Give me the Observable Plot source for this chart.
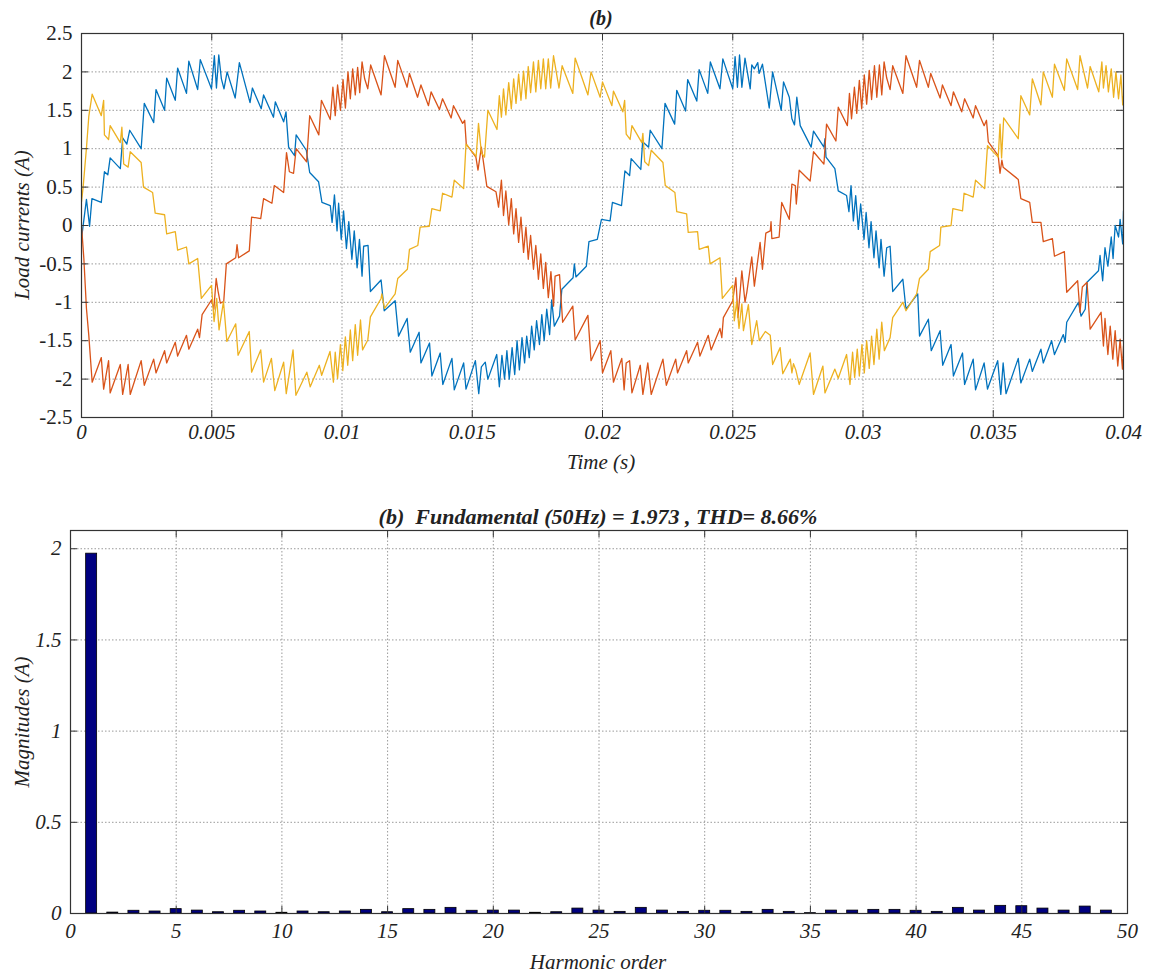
<!DOCTYPE html>
<html><head><meta charset="utf-8">
<script src="https://cdn.jsdelivr.net/npm/d3@7"></script>
<script src="https://cdn.jsdelivr.net/npm/@observablehq/plot@0.6"></script>
<style>
body{margin:0;background:#fff;}
#wrap{position:relative;width:1151px;height:977px;font-family:'Liberation Serif','DejaVu Serif','Times New Roman',Times,serif;color:#222;}
#wrap svg{position:absolute;left:0;}
#wrap svg text{font-family:'Liberation Serif','DejaVu Serif','Times New Roman',Times,serif;}
.t{position:absolute;white-space:pre;font-style:italic;transform:translate(-50%,-50%);}
.rot{transform:translate(-50%,-50%) rotate(-90deg);}
</style></head><body><div id="wrap"></div>
<script>
// time in ms, current in A
const phaseA = [[0,-0.17],[0.19,0.34],[0.31,-0.01],[0.4,0.35],[0.76,0.3],[0.88,0.70],[1.01,0.66],[1.1,0.88],[1.49,0.74],[1.58,1.14],[1.74,1.06],[1.85,1.24],[2.29,1.0],[2.41,1.59],[2.77,1.34],[2.86,1.77],[3.19,1.5],[3.27,1.92],[3.6,1.63],[3.69,2.05],[4.03,1.72],[4.12,2.14],[4.46,1.77],[4.56,2.16],[4.99,1.78],[5.1,2.21],[5.18,1.79],[5.27,2.22],[5.37,1.91],[5.47,1.78],[5.59,2.0],[5.9,1.66],[6.06,2.12],[6.47,1.6],[6.56,1.79],[6.9,1.52],[6.99,1.7],[7.37,1.41],[7.44,1.61],[7.76,1.35],[7.85,1.48],[7.95,1.02],[8.18,0.91],[8.24,1.18],[8.63,0.98],[8.76,0.69],[9.1,0.57],[9.23,0.30],[9.55,0.26],[9.62,0.04],[9.71,0.4],[9.81,-0.07],[9.87,0.29],[9.97,-0.18],[10.06,0.19],[10.17,-0.3],[10.26,0.05],[10.38,-0.44],[10.47,-0.07],[10.58,-0.55],[10.67,-0.18],[10.77,-0.66],[10.83,-0.27],[11.0,-0.26],[11.09,-0.86],[11.5,-0.71],[11.62,-1.11],[12.04,-0.98],[12.17,-1.44],[12.5,-1.21],[12.62,-1.65],[12.96,-1.39],[13.03,-1.79],[13.36,-1.53],[13.45,-1.96],[13.77,-1.66],[13.87,-2.07],[14.22,-1.73],[14.31,-2.14],[14.67,-1.79],[14.76,-2.13],[15.12,-1.76],[15.25,-2.19],[15.35,-1.84],[15.5,-1.78],[15.6,-2.0],[15.94,-1.68],[16.04,-2.1],[16.14,-1.69],[16.24,-2.0],[16.33,-1.63],[16.42,-2.0],[16.53,-1.59],[16.63,-1.94],[16.72,-1.5],[16.81,-1.88],[16.91,-1.46],[17.01,-1.79],[17.09,-1.44],[17.19,-1.72],[17.28,-1.31],[17.38,-1.62],[17.47,-1.24],[17.58,-1.55],[17.67,-1.16],[17.76,-1.5],[17.86,-1.09],[17.97,-1.42],[18.05,-0.97],[18.15,-1.31],[18.35,-1.18],[18.44,-0.83],[18.87,-0.68],[18.92,-0.5],[18.98,-0.67],[19.38,-0.53],[19.48,-0.21],[19.8,-0.18],[19.96,0.08],[20.29,0.06],[20.38,0.3],[20.73,0.26],[20.86,0.71],[21.04,0.65],[21.1,0.87],[21.47,0.73],[21.54,1.09],[21.77,1.02],[21.83,1.24],[22.28,1.0],[22.4,1.59],[22.77,1.32],[22.85,1.76],[23.19,1.49],[23.27,1.9],[23.62,1.62],[23.71,2.03],[24.04,1.72],[24.14,2.13],[24.51,1.78],[24.62,2.17],[25.0,1.78],[25.09,2.2],[25.18,1.8],[25.26,2.22],[25.35,1.8],[25.47,2.18],[25.67,1.78],[25.73,2.09],[25.83,2.04],[25.96,2.12],[26.01,1.98],[26.14,2.1],[26.4,1.53],[26.53,2.0],[26.86,1.5],[26.95,1.87],[27.17,1.67],[27.27,1.39],[27.37,1.31],[27.46,1.67],[27.59,1.3],[28.01,1.02],[28.1,1.23],[28.5,1.02],[28.54,1.13],[28.58,0.89],[28.92,0.74],[29.05,0.45],[29.37,0.39],[29.46,0.18],[29.54,0.52],[29.63,0.06],[29.72,0.39],[29.82,-0.05],[29.91,0.28],[30.04,-0.18],[30.12,0.17],[30.23,-0.29],[30.31,0.05],[30.42,-0.42],[30.5,-0.07],[30.62,-0.55],[30.69,-0.18],[30.81,-0.66],[30.91,-0.29],[31.04,-0.27],[31.14,-0.86],[31.53,-0.70],[31.65,-1.09],[32.1,-0.89],[32.17,-1.44],[32.51,-1.22],[32.62,-1.63],[32.96,-1.37],[33.06,-1.82],[33.38,-1.55],[33.47,-1.96],[33.82,-1.66],[33.9,-2.07],[34.23,-1.74],[34.32,-2.14],[34.65,-1.79],[34.78,-2.13],[35.17,-1.76],[35.29,-2.2],[35.38,-1.79],[35.49,-2.19],[35.96,-1.73],[36.06,-2.05],[36.4,-1.74],[36.5,-1.9],[36.83,-1.61],[36.92,-1.79],[37.24,-1.5],[37.35,-1.68],[37.69,-1.42],[37.76,-1.52],[37.82,-1.26],[38.27,-1.0],[38.37,-1.18],[38.53,-1.09],[38.6,-0.74],[39.04,-0.59],[39.1,-0.39],[39.2,-0.72],[39.29,-0.29],[39.4,-0.53],[39.53,-0.15],[39.6,-0.43],[39.68,0],[39.81,-0.15],[39.87,0.08],[39.97,-0.24],[40,0.19]];
const phaseB = [[0,0],[0.09,-0.43],[0.19,-1.08],[0.28,-1.43],[0.41,-2.04],[0.76,-1.72],[0.85,-2.13],[1.04,-1.76],[1.1,-2.18],[1.49,-1.81],[1.58,-2.2],[1.79,-1.81],[1.87,-2.2],[2.29,-1.76],[2.41,-2.08],[2.77,-1.74],[2.86,-1.92],[3.19,-1.63],[3.27,-1.79],[3.6,-1.52],[3.69,-1.7],[4.03,-1.43],[4.12,-1.61],[4.46,-1.35],[4.53,-1.46],[4.63,-1.16],[4.99,-0.97],[5.08,-1.09],[5.17,-0.69],[5.24,-0.85],[5.33,-1.01],[5.46,-0.99],[5.56,-0.5],[5.92,-0.42],[5.97,-0.25],[6.03,-0.42],[6.44,-0.33],[6.53,0.11],[6.88,0.09],[6.99,0.35],[7.31,0.29],[7.4,0.52],[7.76,0.43],[7.87,0.95],[7.98,0.7],[8.14,0.68],[8.24,1.0],[8.64,0.83],[8.76,1.43],[9.11,1.18],[9.21,1.63],[9.55,1.38],[9.65,1.8],[9.74,1.43],[9.83,1.83],[9.94,1.5],[10.04,1.9],[10.13,1.53],[10.23,2.0],[10.32,1.65],[10.41,2.04],[10.51,1.7],[10.6,2.06],[10.68,1.73],[10.77,2.13],[10.87,1.91],[10.99,1.78],[11.1,2.09],[11.5,1.7],[11.63,2.21],[12.04,1.8],[12.14,2.15],[12.5,1.8],[12.59,1.98],[12.9,1.67],[13.03,1.83],[13.32,1.56],[13.42,1.74],[13.74,1.51],[13.86,1.65],[14.19,1.4],[14.28,1.56],[14.63,1.33],[14.71,1.37],[14.77,1.06],[15.14,0.89],[15.22,0.72],[15.35,1.02],[15.56,0.51],[15.91,0.44],[16.01,0.24],[16.12,0.59],[16.2,0.13],[16.29,0.45],[16.4,0.01],[16.5,0.35],[16.59,-0.11],[16.68,0.22],[16.78,-0.22],[16.87,0.11],[16.97,-0.35],[17.06,-0.02],[17.15,-0.44],[17.24,-0.13],[17.35,-0.57],[17.44,-0.26],[17.54,-0.7],[17.63,-0.37],[17.73,-0.82],[17.82,-0.48],[17.92,-0.94],[18.02,-0.6],[18.12,-1.05],[18.18,-0.66],[18.35,-0.64],[18.47,-1.26],[18.86,-1.05],[18.95,-1.49],[19.44,-1.17],[19.56,-1.76],[19.91,-1.5],[20.0,-1.92],[20.32,-1.63],[20.42,-2.04],[20.74,-1.73],[20.83,-2.14],[20.91,-1.79],[21.04,-1.76],[21.13,-2.18],[21.45,-1.82],[21.55,-2.2],[21.74,-1.79],[21.87,-2.2],[22.32,-1.74],[22.45,-2.08],[22.81,-1.74],[22.88,-1.92],[23.23,-1.63],[23.29,-1.79],[23.65,-1.52],[23.74,-1.7],[24.06,-1.43],[24.17,-1.62],[24.51,-1.34],[24.58,-1.46],[24.64,-1.2],[25.0,-0.98],[25.12,-0.68],[25.2,-1.2],[25.35,-0.59],[25.47,-1.0],[25.54,-0.87],[25.73,-0.41],[25.83,-0.79],[26.05,-0.22],[26.14,-0.57],[26.27,-0.1],[26.44,-0.07],[26.47,0.05],[26.5,-0.17],[26.78,-0.15],[26.88,0.3],[27.17,0.08],[27.27,0.54],[27.4,0.52],[27.44,0.28],[27.55,0.72],[27.97,0.58],[28.1,0.96],[28.5,0.8],[28.6,1.32],[28.96,1.1],[29.05,1.54],[29.4,1.3],[29.48,1.72],[29.56,1.39],[29.67,1.8],[29.76,1.46],[29.86,1.89],[29.95,1.52],[30.05,1.96],[30.14,1.58],[30.24,2.02],[30.33,1.64],[30.44,2.08],[30.53,1.67],[30.63,2.09],[30.72,1.7],[30.81,2.13],[30.91,1.92],[31.04,1.77],[31.14,2.08],[31.53,1.72],[31.65,2.21],[32.06,1.8],[32.17,2.15],[32.51,1.8],[32.6,1.98],[32.96,1.66],[33.05,1.83],[33.38,1.56],[33.47,1.74],[33.79,1.48],[33.9,1.65],[34.23,1.4],[34.32,1.56],[34.65,1.3],[34.74,1.37],[34.81,1.09],[35.19,0.91],[35.26,0.68],[35.33,0.85],[35.38,0.76],[35.96,0.6],[36.06,0.35],[36.4,0.3],[36.5,0.04],[36.83,0.04],[36.92,-0.21],[37.27,-0.17],[37.35,-0.4],[37.73,-0.34],[37.82,-0.87],[38.24,-0.72],[38.33,-1.13],[38.42,-0.8],[38.6,-0.74],[38.72,-1.35],[39.14,-1.13],[39.23,-1.57],[39.29,-1.21],[39.4,-1.68],[39.49,-1.31],[39.59,-1.74],[39.68,-1.37],[39.78,-1.83],[39.87,-1.48],[39.96,-1.87],[40,-1.57]];
const phaseC = [[0,0.31],[0.06,0.49],[0.19,1.01],[0.28,1.42],[0.41,1.71],[0.76,1.43],[0.85,1.63],[0.88,1.18],[1.04,1.12],[1.1,1.3],[1.49,1.08],[1.55,1.28],[1.62,0.8],[1.79,0.76],[1.87,0.96],[2.29,0.82],[2.38,0.5],[2.73,0.43],[2.83,0.16],[3.19,0.14],[3.27,-0.11],[3.6,-0.08],[3.69,-0.32],[4.03,-0.28],[4.12,-0.5],[4.46,-0.43],[4.6,-0.95],[4.99,-0.78],[5.09,-1.25],[5.19,-0.95],[5.28,-1.36],[5.45,-0.99],[5.58,-1.51],[5.92,-1.28],[6.01,-1.69],[6.44,-1.38],[6.53,-1.91],[6.88,-1.62],[6.99,-2.04],[7.29,-1.73],[7.42,-2.15],[7.76,-1.78],[7.86,-2.19],[8.12,-1.62],[8.23,-2.21],[8.65,-1.91],[8.78,-2.1],[9.13,-1.82],[9.22,-1.95],[9.54,-1.64],[9.67,-2.04],[9.74,-1.65],[9.83,-1.99],[9.94,-1.55],[10.03,-1.89],[10.13,-1.45],[10.22,-1.82],[10.32,-1.36],[10.41,-1.76],[10.51,-1.29],[10.6,-1.69],[10.71,-1.23],[10.79,-1.62],[10.99,-1.49],[11.09,-1.19],[11.5,-0.95],[11.53,-0.89],[11.63,-1.08],[12.04,-0.89],[12.14,-0.69],[12.51,-0.57],[12.59,-0.31],[12.91,-0.26],[13.0,-0.02],[13.35,-0.01],[13.45,0.22],[13.77,0.19],[13.86,0.42],[14.22,0.37],[14.31,0.59],[14.67,0.48],[14.76,1.06],[15.15,0.9],[15.24,1.33],[15.35,0.95],[15.47,0.89],[15.6,1.5],[15.95,1.25],[16.04,1.69],[16.12,1.41],[16.2,1.78],[16.29,1.44],[16.4,1.86],[16.5,1.52],[16.59,1.91],[16.68,1.59],[16.78,1.97],[16.87,1.63],[16.97,2.01],[17.06,1.65],[17.15,2.07],[17.24,1.73],[17.35,2.13],[17.44,1.74],[17.54,2.15],[17.63,1.78],[17.73,2.17],[17.82,1.78],[17.92,2.17],[18.01,1.79],[18.12,2.21],[18.33,1.79],[18.45,2.08],[18.86,1.72],[18.95,2.18],[19.44,1.7],[19.56,2.0],[19.91,1.67],[20.0,1.87],[20.36,1.56],[20.42,1.75],[20.78,1.48],[20.85,1.63],[20.91,1.19],[21.06,1.12],[21.13,1.3],[21.51,1.08],[21.55,1.2],[21.62,0.83],[21.77,0.78],[21.87,0.98],[22.32,0.82],[22.41,0.52],[22.78,0.43],[22.85,0.18],[23.23,0.15],[23.29,-0.09],[23.65,-0.08],[23.71,-0.31],[24.06,-0.27],[24.13,-0.5],[24.51,-0.42],[24.6,-0.95],[25.0,-0.78],[25.06,-1.24],[25.15,-0.99],[25.24,-1.34],[25.35,-1.02],[25.41,-1.37],[25.6,-1.03],[25.73,-1.55],[25.92,-1.24],[26.02,-1.5],[26.25,-1.38],[26.44,-1.43],[26.53,-1.81],[26.82,-1.59],[26.92,-1.93],[27.21,-1.74],[27.27,-1.92],[27.33,-1.8],[27.42,-1.88],[27.55,-2.07],[27.97,-1.66],[28.1,-2.2],[28.46,-1.83],[28.54,-2.18],[28.92,-1.87],[29.05,-1.99],[29.37,-1.68],[29.5,-2.07],[29.6,-1.65],[29.68,-1.98],[29.78,-1.61],[29.86,-1.96],[29.96,-1.55],[30.05,-1.92],[30.14,-1.5],[30.24,-1.86],[30.33,-1.44],[30.42,-1.81],[30.53,-1.35],[30.62,-1.74],[30.72,-1.26],[30.82,-1.63],[31.04,-1.46],[31.14,-1.2],[31.53,-1.0],[31.65,-1.11],[32.06,-0.89],[32.17,-0.69],[32.51,-0.57],[32.58,-0.34],[32.94,-0.26],[32.99,-0.02],[33.38,0],[33.45,0.22],[33.82,0.19],[33.88,0.42],[34.23,0.37],[34.32,0.59],[34.67,0.48],[34.78,1.04],[35.19,0.89],[35.26,1.32],[35.32,0.88],[35.4,1.4],[35.96,1.13],[36.06,1.69],[36.4,1.44],[36.5,1.91],[36.83,1.57],[36.92,2.0],[37.27,1.67],[37.35,2.1],[37.73,1.76],[37.82,2.17],[38.24,1.77],[38.33,2.21],[38.62,1.79],[38.72,2.07],[38.97,1.82],[39.05,1.74],[39.17,2.13],[39.23,1.79],[39.33,2.08],[39.42,1.74],[39.53,2.04],[39.62,1.67],[39.71,2.0],[39.81,1.65],[39.9,1.96],[39.97,1.57],[40,1.68]];
const timeTicks = [0, 0.005, 0.01, 0.015, 0.02, 0.025, 0.03, 0.035, 0.04];
const currentTicks = [-2.5, -2, -1.5, -1, -0.5, 0, 0.5, 1, 1.5, 2, 2.5];
const harmonicOrder = [1,2,3,4,5,6,7,8,9,10,11,12,13,14,15,16,17,18,19,20,21,22,23,24,25,26,27,28,29,30,31,32,33,34,35,36,37,38,39,40,41,42,43,44,45,46,47,48,49];
const harmonicMag = [1.973,0.005,0.015,0.011,0.024,0.016,0.007,0.015,0.011,0.004,0.011,0.007,0.011,0.02,0.007,0.024,0.02,0.031,0.015,0.016,0.016,0.004,0.007,0.027,0.016,0.009,0.031,0.016,0.009,0.015,0.015,0.009,0.02,0.009,0.002,0.016,0.016,0.02,0.02,0.015,0.009,0.031,0.016,0.042,0.04,0.027,0.016,0.038,0.016];
const orderTicks = [0,5,10,15,20,25,30,35,40,45,50];
const magTicks = [0,0.5,1,1.5,2];
const seriesColors = ["#0072BD", "#D95319", "#EDB120"];

const wrap = document.getElementById("wrap");
const FS = 21;
const FONT = "'Liberation Serif','DejaVu Serif','Times New Roman',Times,serif";
const axisCol = "#333";
const gridStyle = {stroke: "#9a9a9a", strokeOpacity: 1, strokeDasharray: "1.5,2", strokeWidth: 1};

function inwardTicks(xt, yt, innerW, innerH, len) {
  return [
    Plot.tickX(xt, {x: d => d, insetTop: innerH - len, stroke: axisCol}),
    Plot.tickX(xt, {x: d => d, insetBottom: innerH - len, stroke: axisCol}),
    Plot.tickY(yt, {y: d => d, insetRight: innerW - len, stroke: axisCol}),
    Plot.tickY(yt, {y: d => d, insetLeft: innerW - len, stroke: axisCol})
  ];
}

// Top chart
{
  const W = 1151, H = 480, mL = 81, mR = 28, mT = 33, mB = 63;
  const innerW = W - mL - mR, innerH = H - mT - mB;
  const toS = d => d[0] / 1000;
  const p = Plot.plot({
    width: W, height: H, marginLeft: mL, marginRight: mR, marginTop: mT, marginBottom: mB,
    style: {fontFamily: FONT, fontSize: FS + "px", color: "#222", background: "transparent", overflow: "visible"},
    x: {domain: [0, 0.04]},
    y: {domain: [-2.5, 2.5]},
    marks: [
      Plot.gridX(timeTicks.slice(1, -1), gridStyle),
      Plot.gridY(currentTicks.slice(1, -1), gridStyle),
      Plot.line(phaseA, {x: toS, y: d => d[1], stroke: seriesColors[0], strokeWidth: 1.3, clip: true}),
      Plot.line(phaseB, {x: toS, y: d => d[1], stroke: seriesColors[1], strokeWidth: 1.3, clip: true}),
      Plot.line(phaseC, {x: toS, y: d => d[1], stroke: seriesColors[2], strokeWidth: 1.3, clip: true}),
      ...inwardTicks(timeTicks, currentTicks, innerW, innerH, 7),
      Plot.frame({stroke: axisCol, strokeWidth: 1.2}),
      Plot.axisX(timeTicks, {tickSize: 0, tickPadding: 7, tickFormat: d => String(d), fontStyle: "italic", fontSize: FS, fontFamily: FONT, label: null}),
      Plot.axisY(currentTicks, {tickSize: 0, tickPadding: 9, tickFormat: d => String(d), fontSize: FS, fontFamily: FONT, label: null})
    ]
  });
  p.style.top = "0px";
  wrap.appendChild(p);
}

// Bottom chart
{
  const W = 1151, H = 497, mL = 70, mR = 24, mT = 50, mB = 64;
  const innerW = W - mL - mR, innerH = H - mT - mB;
  const bars = harmonicOrder.map((h, i) => ({h, m: harmonicMag[i]}));
  const p = Plot.plot({
    width: W, height: H, marginLeft: mL, marginRight: mR, marginTop: mT, marginBottom: mB,
    style: {fontFamily: FONT, fontSize: FS + "px", color: "#222", background: "transparent", overflow: "visible"},
    x: {domain: [0, 50]},
    y: {domain: [0, 2.1]},
    marks: [
      Plot.gridX(orderTicks.slice(1, -1), gridStyle),
      Plot.gridY(magTicks.slice(1), gridStyle),
      Plot.rectY(bars, {x1: d => d.h - 0.26, x2: d => d.h + 0.26, y1: 0, y2: "m", fill: "#000080", stroke: "#000", strokeWidth: 0.8}),
      ...inwardTicks(orderTicks, magTicks, innerW, innerH, 7),
      Plot.frame({stroke: axisCol, strokeWidth: 1.2}),
      Plot.axisX(orderTicks, {tickSize: 0, tickPadding: 10, tickFormat: d => String(d), fontStyle: "italic", fontSize: FS, fontFamily: FONT, label: null}),
      Plot.axisY(magTicks, {tickSize: 0, tickPadding: 9, tickFormat: d => String(d), fontStyle: "italic", fontSize: FS, fontFamily: FONT, label: null})
    ]
  });
  p.style.top = "480px";
  wrap.appendChild(p);
}

function label(text, x, y, opts = {}) {
  const d = document.createElement("div");
  d.className = "t" + (opts.rot ? " rot" : "");
  d.textContent = text;
  d.style.left = x + "px";
  d.style.top = y + "px";
  d.style.fontSize = (opts.size || FS) + "px";
  d.style.fontFamily = FONT;
  if (opts.bold) d.style.fontWeight = "bold";
  wrap.appendChild(d);
}
label("(b)", 601, 18, {bold: true, size: 20});
label("Load currents (A)", 22, 225, {rot: true});
label("Time (s)", 601, 462);
label("(b)  Fundamental (50Hz) = 1.973 , THD= 8.66%", 598, 517, {bold: true, size: 22});
label("Magnitudes (A)", 22, 722, {rot: true});
label("Harmonic order", 598, 962);
</script></body></html>
